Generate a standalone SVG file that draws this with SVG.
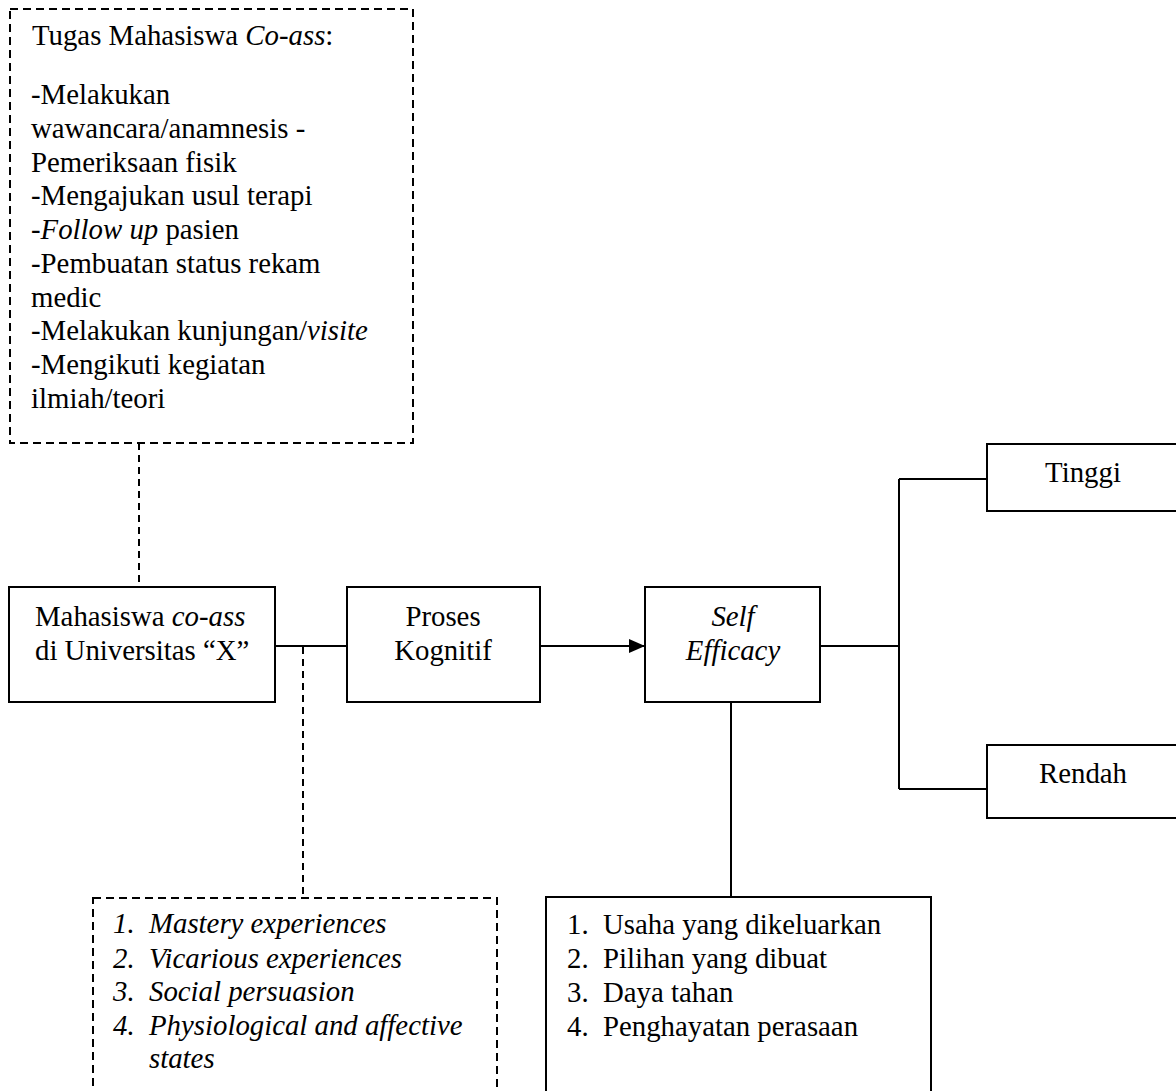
<svg xmlns="http://www.w3.org/2000/svg" width="1176" height="1091" viewBox="0 0 1176 1091">
<style>
text{font-family:"Liberation Serif","Times New Roman",serif;font-size:28.8px;fill:#000}
.i{font-style:italic}
.c{text-anchor:middle}
.box{fill:#fff;stroke:#000;stroke-width:2}
.dbox{fill:#fff;stroke:#000;stroke-width:2;stroke-dasharray:8,5}
.ln{fill:none;stroke:#000;stroke-width:2}
.dl{fill:none;stroke:#000;stroke-width:2;stroke-dasharray:7,5}
</style>
<defs>
<marker id="ah" markerWidth="16" markerHeight="14" refX="15" refY="7" orient="auto" markerUnits="userSpaceOnUse">
<path d="M0,0 L16,7 L0,14 Z" fill="#000"/>
</marker>
</defs>
<rect width="1176" height="1091" fill="#fff"/>
<g id="connectors">
<path class="dl" d="M139,443 V587"/>
<path class="ln" d="M275,646 H347"/>
<path class="dl" d="M303,647 V897"/>
<path class="ln" d="M540,646 H644" marker-end="url(#ah)"/>
<path class="ln" d="M731,702 V897"/>
<path class="ln" d="M820,646 H899 M899,479 V789 M899,479 H987 M899,789 H987"/>
</g>
<g id="tugas">
<rect class="dbox" x="10" y="9" width="403" height="434"/>
<text x="32" y="45">Tugas Mahasiswa <tspan class="i">Co-ass</tspan>:</text>
<text x="31" y="104">-Melakukan</text>
<text x="31" y="138">wawancara/anamnesis -</text>
<text x="31" y="172">Pemeriksaan fisik</text>
<text x="31" y="205">-Mengajukan usul terapi</text>
<text x="31" y="239">-<tspan class="i">Follow up</tspan> pasien</text>
<text x="31" y="273">-Pembuatan status rekam</text>
<text x="31" y="307">medic</text>
<text x="31" y="340">-Melakukan kunjungan/<tspan class="i">visite</tspan></text>
<text x="31" y="374">-Mengikuti kegiatan</text>
<text x="31" y="408">ilmiah/teori</text>
</g>
<g id="mahasiswa">
<rect class="box" x="9" y="587" width="266" height="115"/>
<text x="35" y="626">Mahasiswa <tspan class="i">co-ass</tspan></text>
<text x="35" y="660">di Universitas “X”</text>
</g>
<g id="proses">
<rect class="box" x="347" y="587" width="193" height="115"/>
<text class="c" x="443" y="626">Proses</text>
<text class="c" x="443" y="660">Kognitif</text>
</g>
<g id="selfefficacy">
<rect class="box" x="645" y="587" width="175" height="115"/>
<text class="c i" x="733" y="626">Self</text>
<text class="c i" x="733" y="660">Efficacy</text>
</g>
<g id="tinggi">
<rect class="box" x="987" y="444" width="200" height="67"/>
<text class="c" x="1083" y="482">Tinggi</text>
</g>
<g id="rendah">
<rect class="box" x="987" y="745" width="200" height="73"/>
<text class="c" x="1083" y="783">Rendah</text>
</g>
<g id="sumber">
<rect class="dbox" x="93" y="898" width="404" height="210"/>
<text class="i" x="113" y="933">1.</text><text class="i" x="149" y="933">Mastery experiences</text>
<text class="i" x="113" y="968">2.</text><text class="i" x="149" y="968">Vicarious experiences</text>
<text class="i" x="113" y="1001">3.</text><text class="i" x="149" y="1001">Social persuasion</text>
<text class="i" x="113" y="1035">4.</text><text class="i" x="149" y="1035">Physiological and affective</text>
<text class="i" x="149" y="1068">states</text>
</g>
<g id="dampak">
<rect class="box" x="546" y="897" width="385" height="210"/>
<text x="567" y="934">1.</text><text x="603" y="934">Usaha yang dikeluarkan</text>
<text x="567" y="968">2.</text><text x="603" y="968">Pilihan yang dibuat</text>
<text x="567" y="1002">3.</text><text x="603" y="1002">Daya tahan</text>
<text x="567" y="1036">4.</text><text x="603" y="1036">Penghayatan perasaan</text>
</g>
</svg>
